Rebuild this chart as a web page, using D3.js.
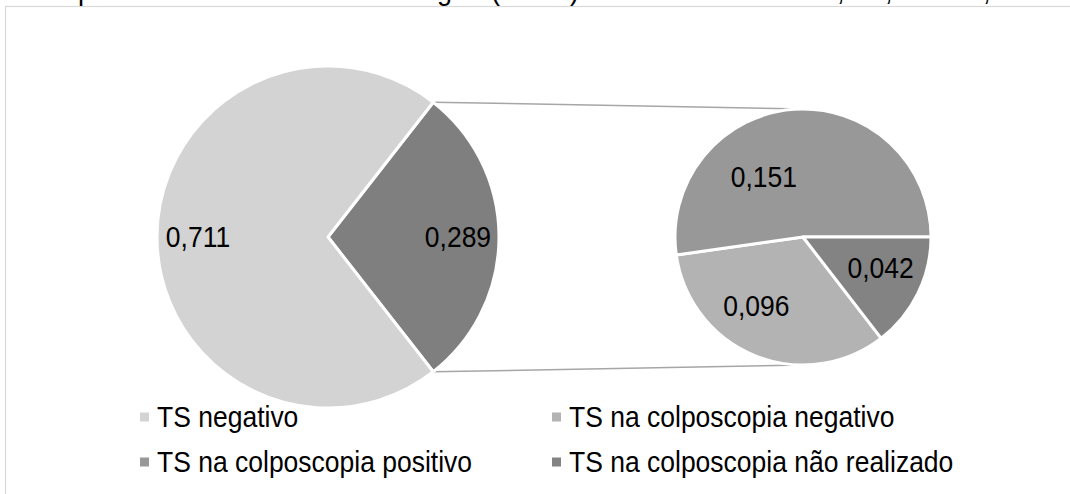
<!DOCTYPE html>
<html>
<head>
<meta charset="utf-8">
<script src="https://cdn.jsdelivr.net/npm/d3@7"></script>
<style>
  html, body { margin: 0; padding: 0; background: #fff; }
  svg { display: block; font-family: "Liberation Sans", Arial, sans-serif; }
</style>
</head>
<body>
<svg id="chart" width="1070" height="494"></svg>
<script>
// --- Données ---
const categories = ["TS negativo", "TS na colposcopia negativo", "TS na colposcopia positivo", "TS na colposcopia não realizado"];
const values = [0.711, 0.096, 0.151, 0.042];
const colors = ["#d3d3d3", "#b3b3b3", "#989898", "#838383"];
const otherColor = "#7f7f7f";
const fmt = v => d3.format(".3f")(v).replace(".", ",");

// Fragments du titre (coupé en haut de l'image) : seules les jambes des lettres sont visibles
const titleGlyphs = [["p", 78], ["g", 437], ["(", 491], [")", 570], [",", 837], [",", 885], [",", 983]];

const svg = d3.select("#chart");
const W = 1070, H = 494;
const FS = 26.5, STRETCH = 1.1; // texte un peu étiré verticalement comme dans l'original

// cadre du graphique
svg.append("rect").attr("x", 5.5).attr("y", 6.5).attr("width", W).attr("height", H)
  .attr("fill", "#fff").attr("stroke", "#d9d9d9").attr("stroke-width", 1.2);

svg.append("g").selectAll("text").data(titleGlyphs).join("text")
  .attr("transform", d => `translate(${d[1]},0) scale(1,${STRETCH})`)
  .attr("font-size", 27).attr("fill", "#000")
  .text(d => d[0]);

// --- Camembert principal ---
const main = { cx: 328, cy: 237, r: 171 };
const second = { cx: 803, cy: 237, r: 128 };

const otherValue = d3.sum(values.slice(1));
const mainData = [{ name: "Outros", value: otherValue, color: otherColor },
                  { name: categories[0], value: values[0], color: colors[0] }];
const total = d3.sum(mainData, d => d.value);
const half = otherValue / total * Math.PI;

const mainPie = d3.pie().sort(null).value(d => d.value)
  .startAngle(Math.PI / 2 - half).endAngle(Math.PI / 2 - half + 2 * Math.PI);
const mainArcs = mainPie(mainData);
const mainArc = d3.arc().innerRadius(0).outerRadius(main.r);
const mainLabelArc = d3.arc().innerRadius(main.r * 0.76).outerRadius(main.r * 0.76);

// --- Second camembert ---
const secData = categories.slice(1).map((c, i) => ({ name: c, value: values[i + 1], color: colors[i + 1] }));
const secPie = d3.pie().sort((a, b) => a.value - b.value).value(d => d.value)
  .startAngle(Math.PI / 2).endAngle(Math.PI / 2 + 2 * Math.PI);
const secArcs = secPie(secData);
const secArc = d3.arc().innerRadius(0).outerRadius(second.r);
// placement des étiquettes (décalage angulaire en degrés, rayon relatif)
const secLabelLayout = { "TS na colposcopia não realizado": [-5, 0.65], "TS na colposcopia negativo": [12, 0.65], "TS na colposcopia positivo": [-29, 0.56] };

// lignes de liaison
function tangentPoint(px, py, c, sign) {
  const dx = px - c.cx, dy = py - c.cy;
  const d = Math.hypot(dx, dy);
  const base = Math.atan2(dy, dx);
  const a = base + sign * Math.acos(c.r / d);
  return [c.cx + c.r * Math.cos(a), c.cy + c.r * Math.sin(a)];
}
const other = mainArcs[0];
const pTop = [main.cx + main.r * Math.sin(other.startAngle), main.cy - main.r * Math.cos(other.startAngle)];
const pBot = [main.cx + main.r * Math.sin(other.endAngle), main.cy - main.r * Math.cos(other.endAngle)];
const tTop = tangentPoint(pTop[0], pTop[1], second, 1);
const tBot = tangentPoint(pBot[0], pBot[1], second, -1);
svg.append("g").selectAll("line").data([[pTop, tTop], [pBot, tBot]]).join("line")
  .attr("x1", d => d[0][0]).attr("y1", d => d[0][1])
  .attr("x2", d => d[1][0]).attr("y2", d => d[1][1])
  .attr("stroke", "#a6a6a6").attr("stroke-width", 1.5);

function label(sel) {
  sel.attr("text-anchor", "middle").attr("dy", "0.36em")
    .attr("font-size", FS).attr("fill", "#000")
    .text(d => fmt(d.value));
}

const gMain = svg.append("g").attr("transform", `translate(${main.cx},${main.cy})`);
gMain.selectAll("path").data(mainArcs).join("path")
  .attr("d", mainArc).attr("fill", d => d.data.color)
  .attr("stroke", "#fff").attr("stroke-width", 3).attr("stroke-linejoin", "round");
gMain.selectAll("text").data(mainArcs).join("text")
  .attr("transform", d => `translate(${mainLabelArc.centroid(d)}) scale(1,${STRETCH})`)
  .call(label);

const gSec = svg.append("g").attr("transform", `translate(${second.cx},${second.cy})`);
gSec.selectAll("path").data(secArcs).join("path")
  .attr("d", secArc).attr("fill", d => d.data.color)
  .attr("stroke", "#fff").attr("stroke-width", 3).attr("stroke-linejoin", "round");
gSec.selectAll("text").data(secArcs).join("text")
  .attr("transform", d => {
    const [da, k] = secLabelLayout[d.data.name];
    const a = (d.startAngle + d.endAngle) / 2 + da * Math.PI / 180;
    return `translate(${Math.sin(a) * second.r * k},${-Math.cos(a) * second.r * k}) scale(1,${STRETCH})`;
  })
  .call(label);

// --- Légende (2 colonnes) ---
const legend = svg.append("g");
const item = legend.selectAll("g").data(categories).join("g")
  .attr("transform", (d, i) => `translate(${i % 2 === 0 ? 140 : 552},${i < 2 ? 417 : 462})`);
item.append("rect").attr("x", 0).attr("y", -4.5).attr("width", 9).attr("height", 9)
  .attr("fill", (d, i) => colors[i]);
item.append("text").attr("transform", `translate(17,9.5) scale(1,${STRETCH})`)
  .attr("font-size", FS).attr("fill", "#000")
  .text(d => d);
</script>
</body>
</html>
